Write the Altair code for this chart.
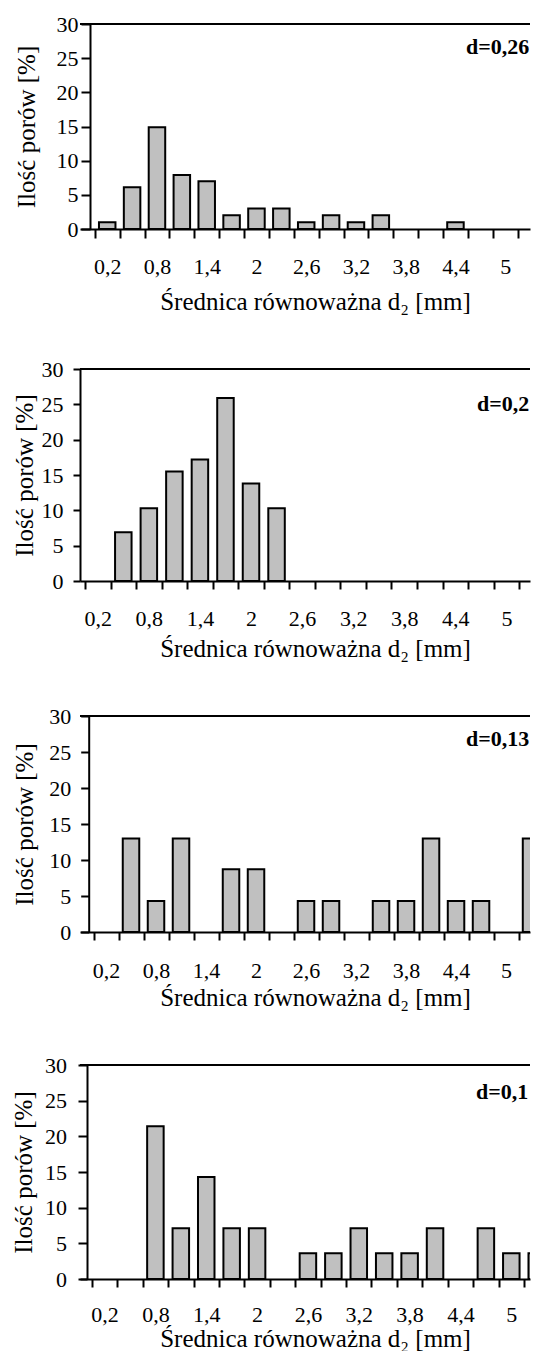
import altair as alt
import pandas as pd

# ---------------- data ----------------
BIN_CENTERS = [0.2, 0.5, 0.8, 1.1, 1.4, 1.7, 2.0, 2.3, 2.6, 2.9,
               3.2, 3.5, 3.8, 4.1, 4.4, 4.7, 5.0, 5.3]
X_LABEL_VALUES = [0.2, 0.8, 1.4, 2.0, 2.6, 3.2, 3.8, 4.4, 5.0]
Y_TICKS = [0, 5, 10, 15, 20, 25, 30]
PANEL_NAMES = ["d=0,26", "d=0,2", "d=0,13", "d=0,1"]

SERIES_D026 = [1.0, 6.1, 14.9, 7.9, 7.0, 2.0, 3.0, 3.0, 1.0, 2.0, 1.0, 2.0, 0, 0, 1.0, 0, 0, 0]
SERIES_D02 = [0, 6.9, 10.3, 15.5, 17.2, 25.9, 13.8, 10.3, 0, 0, 0, 0, 0, 0, 0, 0, 0, 0]
SERIES_D013 = [0, 13.0, 4.3, 13.0, 0, 8.7, 8.7, 0, 4.3, 4.3, 0, 4.3, 4.3, 13.0, 4.3, 4.3, 0, 13.0]
SERIES_D01 = [0, 0, 21.4, 7.1, 14.3, 7.1, 7.1, 0, 3.6, 3.6, 7.1, 3.6, 3.6, 7.1, 0, 7.1, 3.6, 3.6]
SERIES = [SERIES_D026, SERIES_D02, SERIES_D013, SERIES_D01]

X_TITLE = "Średnica równoważna d₂ [mm]"
Y_TITLE = "Ilość porów [%]"

# ---------------- layout / style ----------------
FONT = "Liberation Serif"
ORIGIN = 80.0      # common plot origin (page px)
PLOT_W = 450       # plot width (chart must stay inside the 523px body)
BIN_W = 0.3
TITLE_CENTER = 315  # page x of the x-axis title centre

LAYOUT = [
    dict(axis_x=90.0, step=25.44, height=205, ytick=9, ylab_pad=3, ytit_pad=16.5,
         xtick=9, xlab_pad=18, xtit_pad=12, text_px=466, text_py=30),
    dict(axis_x=80.0, step=26.12, height=212, ytick=7, ylab_pad=10, ytit_pad=4,
         xtick=8, xlab_pad=19, xtit_pad=7, text_px=477, text_py=42),
    dict(axis_x=88.7, step=25.57, height=216, ytick=8, ylab_pad=10, ytit_pad=11.5,
         xtick=8, xlab_pad=20, xtit_pad=4, text_px=466, text_py=30),
    dict(axis_x=87.0, step=26.0, height=214, ytick=9, ylab_pad=11.5, ytit_pad=8.3,
         xtick=8, xlab_pad=17, xtit_pad=1, text_px=476, text_py=34),
]

IS_LABEL = "round(datum.value*20) % 6 == 4"


def make_panel(series, name, cfg):
    x0 = BIN_CENTERS[0] - BIN_W / 2
    xmin = x0 - BIN_W * (cfg["axis_x"] - ORIGIN) / cfg["step"]
    xmax = xmin + BIN_W * PLOT_W / cfg["step"]
    bounds = [round(c - BIN_W / 2, 2) for c in BIN_CENTERS]
    tick_vals = [b for b in bounds if xmin - 1e-9 <= b <= xmax] + \
                [v for v in X_LABEL_VALUES if v <= xmax]

    df = pd.DataFrame({"d": BIN_CENTERS, "v": series})

    xaxis = alt.Axis(
        values=tick_vals, title=X_TITLE, grid=False,
        labelExpr=f"{IS_LABEL} ? replace(format(datum.value, '.1~f'), '.', ',') : ''",
        tickOpacity={"condition": {"test": IS_LABEL, "value": 0}, "value": 1},
        tickSize=cfg["xtick"], tickWidth=2, tickColor="black",
        domainWidth=2, domainColor="black",
        labelFont=FONT, labelFontSize=22, labelColor="black",
        labelPadding=cfg["xlab_pad"], labelOverlap=False, labelFlush=False,
        titleFont=FONT, titleFontSize=25, titleFontWeight="normal",
        titleColor="black", titlePadding=cfg["xtit_pad"],
        titleX=TITLE_CENTER - ORIGIN,
    )
    yaxis = alt.Axis(
        values=Y_TICKS, title=Y_TITLE, grid=False,
        offset=-(cfg["axis_x"] - ORIGIN),
        tickSize=cfg["ytick"], tickWidth=2, tickColor="black",
        domainWidth=2, domainColor="black",
        labelFont=FONT, labelFontSize=22, labelColor="black",
        labelPadding=cfg["ylab_pad"], labelOverlap=False,
        titleFont=FONT, titleFontSize=25, titleFontWeight="normal",
        titleColor="black", titlePadding=cfg["ytit_pad"],
    )

    bars = alt.Chart(df).transform_filter("datum.v > 0").mark_bar(
        size=16.5, fill="#c0c0c0", stroke="black", strokeWidth=2, clip=True
    ).encode(
        x=alt.X("d:Q", scale=alt.Scale(domain=[xmin, xmax], nice=False, zero=False),
                axis=xaxis),
        y=alt.Y("v:Q", scale=alt.Scale(domain=[0, 30], nice=False), axis=yaxis),
    )

    # frame line along the top of the plot area (y = 30)
    top_line = alt.Chart(pd.DataFrame({"t": [30]})).mark_rule(
        color="black", strokeWidth=2
    ).encode(y=alt.value(0))

    label = alt.Chart(pd.DataFrame({"name": [name]})).mark_text(
        align="left", baseline="alphabetic", font=FONT, fontSize=22,
        fontWeight="bold", color="black"
    ).encode(x=alt.value(cfg["text_px"] - ORIGIN), y=alt.value(cfg["text_py"]),
             text="name:N")

    return alt.layer(bars, top_line, label).properties(
        width=PLOT_W, height=cfg["height"]
    )


panels = [make_panel(s, n, c) for s, n, c in zip(SERIES, PANEL_NAMES, LAYOUT)]

chart = alt.vconcat(*panels, spacing=44).properties(
    padding={"left": 3, "top": 5, "right": 0, "bottom": 0},
    background="white",
).configure_view(strokeWidth=0)

chart.save("out.html", embed_options={"renderer": "svg", "actions": False})
